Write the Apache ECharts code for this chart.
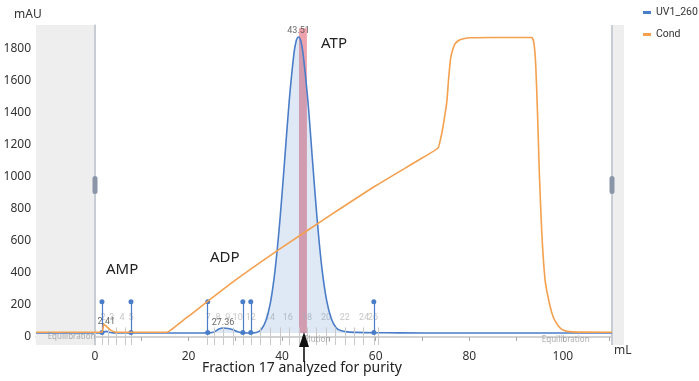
<!DOCTYPE html>
<html>
<head>
<meta charset="utf-8">
<script src="https://cdn.jsdelivr.net/npm/echarts@6/dist/echarts.min.js"></script>
<style>
  html, body { margin: 0; padding: 0; background: #fff; }
  #chart { width: 699px; height: 381px; }
</style>
</head>
<body>
<div id="chart"></div>
<script>
// UV trace (mL, mAU)
const uvVolume = [-12.6, -5, 0, 1.5, 2.0, 2.41, 3.0, 4.0, 8, 15, 22, 24.5, 25.5, 26.5, 27.36, 28.5, 29.5, 30.5, 31.5, 33, 34.5,
  35.5, 36.5, 37.5, 38.5, 39.5, 40.5, 41.5, 42.5, 43.0, 43.51, 44.0, 44.5, 45.5, 46.5, 47.5, 48.5, 49.5, 50.5, 51.5, 52.5,
  54, 56, 60, 65, 75, 90, 110.5]
const uvSignal = [25, 25, 25, 26, 32, 35, 30, 26, 25, 25, 25, 26, 32, 50, 56, 53, 45, 33, 26, 25, 28,
  45, 100, 215, 420, 720, 1090, 1470, 1765, 1850, 1875, 1850, 1765, 1480, 1100, 730, 430, 230, 115, 60, 40,
  32, 29, 27, 26, 25, 25, 25]

// Conductivity trace (same scale as drawn)
const condVolume = [-12.6, 0, 1.5, 1.9, 2.5, 3.5, 4.5, 15.4, 16.5, 20, 30, 40, 50, 60, 70, 73.3,
  73.8, 74.3, 74.8, 75.2, 75.6, 76, 76.5, 77, 78, 79, 80, 85, 93.3, 93.8, 94.2, 94.6, 95, 95.5, 96.2, 97.2, 98, 99, 100, 102, 110.5]
const condSignal = [30, 30, 30, 80, 65, 40, 30, 30, 50, 130, 355, 560, 755, 945, 1120, 1181,
  1230, 1300, 1390, 1470, 1620, 1740, 1800, 1835, 1858, 1866, 1870, 1872, 1872, 1840, 1700, 1380, 1000, 650, 356, 200, 120, 70, 44, 32, 30]

// events, fractions, peak labels
const eventVolume = [1.5, 7.7, 24.1, 31.6, 33.3, 59.6]
const fractionEdges = [1.5, 2.9, 4.6, 6.4, 7.7, 24.1, 25.6, 27.4, 29.5, 31.6, 33.3, 35.4, 37.4, 39.5, 41.5, 43.6, 45.3,
  47.4, 49.4, 51.4, 53.4, 55.4, 57.4, 59.6, 60.6]
const fractionNames = ['2', '3', '4', '5', '7', '8', '9', '10', '12', '14', '16', '18', '20', '22', '24', '26']
const fractionLabelX = [1.7, 3.6, 5.8, 7.7, 24.2, 26.3, 28.4, 30.5, 33.3, 37.4, 41.2, 45.3, 49.4, 53.4, 57.5, 59.4]
const peakNames = ['2.41', '27.36', '43.51']
const peakLabelPos = [[2.41, 94], [27.36, 87], [43.51, 1912]]
const phaseNames = ['Equilibration', 'Elution', 'Equilibration']
const phasePos = [[-5, 0], [47.5, -14], [100.6, -19]]
const selectedFraction = [43.6, 45.3]

const yLabels = [0, 200, 400, 600, 800, 1000, 1200, 1400, 1600, 1800]
const yTicks = [0, 100, 200, 300, 400, 500, 600, 700, 800, 900, 1000, 1100, 1200, 1300, 1400, 1500, 1600, 1700, 1800, 1900]
const xLabels = [0, 20, 40, 60, 80, 100]
const xTicks = [-10, 0, 10, 20, 30, 40, 50, 60, 70, 80, 90, 100, 110]

const FONT = 'Noto Sans'
const BLUE = '#4a7dc8'
const ORANGE = '#f4a04e'

const chart = echarts.init(document.getElementById('chart'), null, { renderer: 'canvas' })

const uvData = uvVolume.map((v, i) => [v, uvSignal[i]])
const condData = condVolume.map((v, i) => [v, condSignal[i]])

const option = {
  animation: false,
  textStyle: { fontFamily: FONT },
  grid: { left: 36, right: 87, top: 25, bottom: 36 },
  legend: {
    data: ['UV1_260', 'Cond'],
    orient: 'vertical',
    left: 643,
    top: 7,
    padding: 0,
    itemGap: 11,
    itemWidth: 8,
    itemHeight: 3,
    icon: 'rect',
    textStyle: { fontSize: 10.5, color: '#333', fontFamily: 'Roboto' }
  },
  xAxis: {
    type: 'value',
    min: -12.6,
    max: 110.5,
    splitLine: { show: false },
    axisLine: { lineStyle: { color: '#c4c4c4', width: 1.5 } },
    axisTick: { customValues: xTicks, length: 4, lineStyle: { color: '#aaa' } },
    axisLabel: { customValues: xLabels, color: '#333', fontSize: 12, margin: 6, formatter: v => String(v) }
  },
  yAxis: {
    type: 'value',
    min: -50,
    max: 1950,
    splitLine: { show: false },
    axisLine: { show: true, lineStyle: { color: '#d0d0d0', width: 1.5 } },
    axisTick: { customValues: yTicks, length: 3, lineStyle: { color: '#bbb' } },
    axisLabel: { customValues: yLabels, color: '#333', fontSize: 12, margin: 5, formatter: v => String(v) }
  },
  series: [
    {
      // pre-injection shading + column markers
      name: 'bg',
      type: 'line',
      data: [],
      z: 1,
      silent: true,
      markArea: {
        silent: true,
        itemStyle: { color: '#eeeeee' },
        data: [[{ coord: [-12.6, -50] }, { coord: [0, 1950] }]]
      },
      markLine: {
        silent: true,
        symbol: 'none',
        label: { show: false },
        lineStyle: { color: '#c8cdd5', width: 2, type: 'solid' },
        data: [[{ coord: [0, -50] }, { coord: [0, 1950] }]]
      }
    },
    {
      name: 'fractions',
      type: 'line',
      data: [],
      z: 2,
      silent: true,
      markLine: {
        silent: true,
        symbol: 'none',
        label: { show: false },
        lineStyle: { color: '#c9c9c9', width: 1, type: 'solid' },
        data: fractionEdges.map(x => [{ coord: [x, -50] }, { coord: [x, 60] }])
      }
    },
    {
      name: 'fractionLabels',
      type: 'scatter',
      symbolSize: 0,
      z: 3,
      silent: true,
      data: fractionLabelX.map((x, i) => ({ value: [x, 119], name: fractionNames[i] })),
      label: { show: true, position: 'inside', formatter: p => p.name, color: '#b8b8b8', fontSize: 9, fontFamily: 'Roboto' }
    },
    {
      name: 'UV1_260',
      type: 'line',
      data: uvData,
      z: 4,
      symbol: 'none',
      smooth: 0.3,
      lineStyle: { color: BLUE, width: 1.6 },
      itemStyle: { color: BLUE },
      areaStyle: { color: 'rgba(74,125,200,0.25)', origin: 25 }
    },
    {
      name: 'Cond',
      type: 'line',
      data: condData,
      z: 5,
      symbol: 'none',
      smooth: 0.2,
      lineStyle: { color: ORANGE, width: 1.6 },
      itemStyle: { color: ORANGE }
    },
    {
      name: 'selected',
      type: 'line',
      data: [],
      z: 6,
      silent: true,
      markArea: {
        silent: true,
        itemStyle: { color: 'rgba(222,70,88,0.5)' },
        data: [[{ coord: [selectedFraction[0], 25] }, { coord: [selectedFraction[1], 1930] }]]
      }
    },
    {
      name: 'events',
      type: 'line',
      data: [],
      z: 7,
      silent: true,
      markLine: {
        silent: true,
        symbol: ['circle', 'circle'],
        symbolSize: 5,
        label: { show: false },
        lineStyle: { color: BLUE, width: 1.2, type: 'solid' },
        data: eventVolume.map(x => [{ coord: [x, 28] }, { coord: [x, 220] }])
      }
    },
    {
      name: 'peakLabels',
      type: 'scatter',
      symbolSize: 0,
      z: 8,
      silent: true,
      data: peakLabelPos.map((p, i) => ({ value: p, name: peakNames[i] })),
      label: { show: true, position: 'inside', formatter: p => p.name, color: '#444', fontSize: 9, fontFamily: 'Roboto' }
    },
    {
      name: 'phases',
      type: 'scatter',
      symbolSize: 0,
      z: 8,
      silent: true,
      data: phasePos.map((p, i) => ({ value: p, name: phaseNames[i] })),
      label: { show: true, position: 'inside', formatter: p => p.name, color: '#999', fontSize: 8 }
    }
  ],
  graphic: [
    { type: 'rect', shape: { x: 612, y: 25, width: 12, height: 320 }, style: { fill: '#eeeeee' }, z: 0 },
    { type: 'line', shape: { x1: 612, y1: 25, x2: 612, y2: 345 }, style: { stroke: '#c8cdd5', lineWidth: 2 }, z: 1 },
    { type: 'rect', shape: { x: 92.5, y: 176, width: 5, height: 18, r: 2.5 }, style: { fill: '#8a95a7' }, z: 20 },
    { type: 'rect', shape: { x: 609.5, y: 176, width: 5, height: 18, r: 2.5 }, style: { fill: '#8a95a7' }, z: 20 },
    { type: 'text', left: 14, top: 9, style: { text: 'mAU', fill: '#333', font: '12px "Noto Sans"' } },
    { type: 'text', left: 614, top: 345, style: { text: 'mL', fill: '#333', font: '12px "Noto Sans"' } },
    { type: 'text', left: 106, top: 262, style: { text: 'AMP', fill: '#222', font: '15px "Noto Sans"' } },
    { type: 'text', left: 210, top: 250, style: { text: 'ADP', fill: '#222', font: '15px "Noto Sans"' } },
    { type: 'text', left: 321, top: 36, style: { text: 'ATP', fill: '#222', font: '15px "Noto Sans"' } },
    { type: 'text', left: 202, top: 361, style: { text: 'Fraction 17 analyzed for purity', fill: '#222', font: '14px "Noto Sans"' } },
    { type: 'line', shape: { x1: 304, y1: 362, x2: 304, y2: 340 }, style: { stroke: '#111', lineWidth: 1.6 }, z: 30 },
    { type: 'polygon', shape: { points: [[299, 347], [304, 332], [309, 347]] }, style: { fill: '#111' }, z: 30 }
  ]
}

chart.setOption(option)
</script>
</body>
</html>
